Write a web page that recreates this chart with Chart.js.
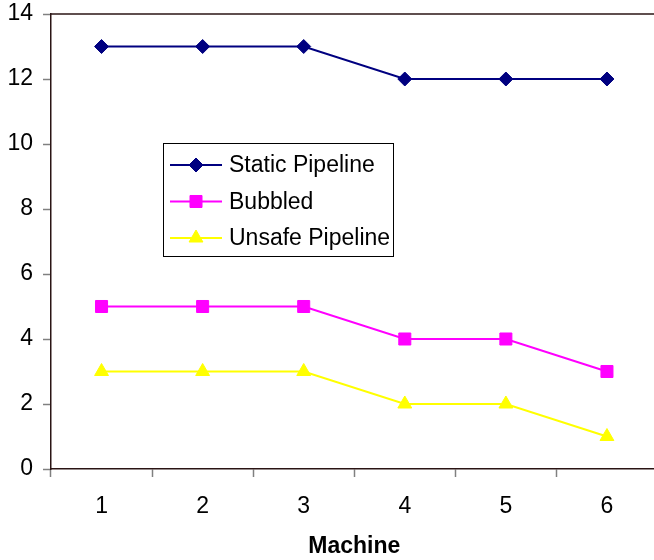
<!DOCTYPE html>
<html>
<head>
<meta charset="utf-8">
<script src="https://cdn.jsdelivr.net/npm/chart.js@4/dist/chart.umd.min.js"></script>
<style>
    html, body { margin: 0; padding: 0; background: #fff; overflow: hidden; }
    #wrap { width: 654px; height: 560px; overflow: hidden; }
</style>
</head>
<body>
<div id="wrap"><canvas id="chart" width="667" height="560"></canvas></div>
<script>
    const machines = ["1", "2", "3", "4", "5", "6"];
    const staticPipeline = [13, 13, 13, 12, 12, 12];
    const bubbled = [5, 5, 5, 4, 4, 3];
    const unsafePipeline = [3, 3, 3, 2, 2, 1];

    const font = "'Liberation Sans', Arial, sans-serif";
    const axisColor = "#2a1414";

    const series = [
        { label: "Static Pipeline", data: staticPipeline, color: "#000080", style: "rectRot", radius: 7 },
        { label: "Bubbled", data: bubbled, color: "#ff00ff", style: "rect", radius: 8.5 },
        { label: "Unsafe Pipeline", data: unsafePipeline, color: "#ffff00", style: "triangle", radius: 8 }
    ];

    // top frame line + the legend box sitting inside the plot
    const framePlugin = {
        id: "frame",
        afterDraw(chart) {
            const { ctx, chartArea } = chart;
            ctx.save();
            ctx.strokeStyle = axisColor;
            ctx.lineWidth = 1.5;
            ctx.beginPath();
            ctx.moveTo(chartArea.left, chartArea.top);
            ctx.lineTo(chartArea.right, chartArea.top);
            ctx.stroke();

            const bx = chartArea.left + 112;
            const by = chartArea.top + 129;
            const bw = 230;
            const bh = 113;
            ctx.fillStyle = "#fff";
            ctx.fillRect(bx, by, bw, bh);
            ctx.strokeStyle = "#000";
            ctx.lineWidth = 1;
            ctx.strokeRect(bx + 0.5, by + 0.5, bw, bh);

            ctx.font = "23px " + font;
            ctx.textBaseline = "middle";
            chart.data.datasets.forEach((ds, i) => {
                const y = by + 22 + i * 36.5;
                ctx.strokeStyle = ds.borderColor;
                ctx.lineWidth = ds.borderWidth;
                ctx.beginPath();
                ctx.moveTo(bx + 7, y);
                ctx.lineTo(bx + 59, y);
                ctx.stroke();
                ctx.fillStyle = ds.backgroundColor;
                ctx.lineWidth = 1;
                Chart.helpers.drawPoint(ctx, {
                    pointStyle: ds.pointStyle,
                    radius: ds.pointRadius,
                    borderWidth: 1
                }, bx + 33, y);
                ctx.fillStyle = "#000";
                ctx.fillText(ds.label, bx + 66, y + 1);
            });
            ctx.restore();
        }
    };

    new Chart(document.getElementById("chart"), {
        type: "line",
        data: {
            labels: machines,
            datasets: series.map((s) => ({
                label: s.label,
                data: s.data,
                borderColor: s.color,
                backgroundColor: s.color,
                borderWidth: 2,
                pointStyle: s.style,
                pointRadius: s.radius,
                pointBorderWidth: 1,
                tension: 0
            }))
        },
        options: {
            responsive: false,
            animation: false,
            layout: { padding: { top: 14, right: 0, left: 0, bottom: 0 } },
            plugins: {
                legend: { display: false },
                tooltip: { enabled: false }
            },
            scales: {
                x: {
                    offset: true,
                    grid: {
                        offset: true,
                        drawOnChartArea: false,
                        tickLength: 8,
                        tickColor: "#808080",
                        tickWidth: 1.5
                    },
                    border: { color: axisColor, width: 1.5 },
                    ticks: {
                        color: "#000",
                        padding: 16,
                        font: { family: font, size: 23 }
                    },
                    title: {
                        display: true,
                        text: "Machine",
                        color: "#000",
                        padding: { top: 0, bottom: 0 },
                        font: { family: font, size: 23, weight: "bold" }
                    },
                    afterFit: (scale) => {
                        scale.height = 91;
                        scale.paddingLeft = 0;
                        scale.paddingRight = 0;
                    }
                },
                y: {
                    min: 0,
                    max: 14,
                    ticks: {
                        stepSize: 2,
                        color: "#000",
                        padding: 10,
                        font: { family: font, size: 23 }
                    },
                    grid: {
                        drawOnChartArea: false,
                        tickLength: 8,
                        tickColor: "#808080",
                        tickWidth: 1.5
                    },
                    border: { color: axisColor, width: 1.5 },
                    afterFit: (scale) => {
                        scale.width = 51;
                        scale.paddingTop = 0;
                        scale.paddingBottom = 0;
                    }
                }
            }
        },
        plugins: [framePlugin]
    });
</script>
</body>
</html>
